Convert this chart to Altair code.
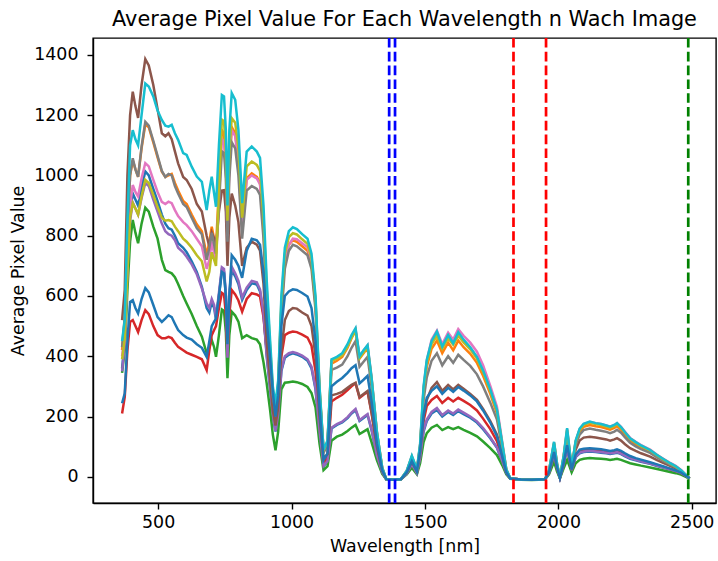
import altair as alt
import pandas as pd

wavelength = [
    365, 375, 385, 395, 405, 415, 425, 438, 452, 465, 482, 498, 514, 527, 539,
    551, 563, 575, 594, 607, 626, 645, 664, 682, 692, 701, 710, 717, 728, 739, 747, 754, 760,
    767, 776, 789, 801, 815, 832, 851, 870, 882, 895, 907, 920, 930, 940, 950, 962, 975,
    990, 1005, 1020, 1040, 1060, 1075, 1090, 1105, 1120, 1135, 1150, 1170, 1190, 1210, 1225, 1240, 1255, 1270, 1285, 1300,
    1320, 1340, 1355, 1380, 1410, 1432, 1451, 1470, 1482, 1495, 1507, 1525, 1545, 1565, 1587, 1606,
    1625, 1645, 1670, 1695, 1718, 1745, 1770, 1790, 1805, 1820, 1860, 1900, 1950, 1965, 1984,
    1995, 2006, 2020, 2033, 2042, 2050, 2065, 2080, 2095, 2118, 2140, 2160, 2180, 2194, 2210, 2220,
    2235, 2250, 2269, 2290, 2310, 2344, 2370, 2395, 2419, 2440, 2460, 2482, 2492,
]

img_blue_a = [
    360, 450, 700, 880, 940, 920, 900, 960, 1013, 1000, 955, 915, 870, 840, 825,
    820, 800, 775, 760, 745, 715, 680, 630, 560, 545, 580, 560, 520, 600, 686, 680, 600, 390,
    600, 686, 665, 640, 587, 620, 642, 638, 615, 540, 400, 288, 200, 150, 200, 350, 395,
    405, 410, 406, 398, 385, 360, 290, 150, 35, 50, 160, 172, 180, 195, 210, 221, 185, 195, 205, 155,
    70, 15, -8, -10, -8, 10, 40, 12, 60, 150, 185, 210, 222, 200, 215, 205,
    218, 208, 196, 180, 158, 128, 96, 50, 12, -6, -9, -10, -8, 12, 72,
    28, -4, 40, 95, 55, 22, 65, 78, 82, 84, 82, 80, 78, 76, 78, 80,
    75, 68, 60, 55, 50, 43, 36, 30, 24, 18, 12, 0, -5,
]
img_orange = [
    420, 520, 800, 1000, 1050, 1020, 995, 1090, 1170, 1160, 1110, 1060, 1012, 995, 1000,
    1005, 975, 950, 915, 905, 870, 838, 815, 735, 780, 830, 790, 760, 960, 1150, 1140, 1040, 820,
    1040, 1160, 1140, 1050, 830, 990, 1007, 995, 975, 830, 600, 410, 280, 225, 300, 560, 720,
    770, 785, 780, 765, 750, 705, 570, 285, 85, 110, 375, 385, 398, 428, 460, 485, 392, 410, 428, 322,
    145, 28, -8, -10, -8, 18, 65, 22, 100, 280, 365, 425, 452, 410, 445, 420,
    452, 430, 408, 378, 335, 275, 210, 105, 22, -6, -9, -10, -8, 18, 108,
    42, -3, 65, 150, 85, 28, 112, 150, 166, 172, 168, 165, 160, 156, 162, 168,
    156, 140, 121, 108, 98, 84, 68, 55, 42, 33, 20, 2, -5,
]
img_green = [
    345, 420, 620, 780, 852, 810, 775, 840, 893, 880, 830, 790, 720, 686, 680,
    675, 662, 640, 600, 575, 540, 500, 465, 410, 430, 454, 430, 398, 470, 555, 550, 480, 327,
    470, 548, 535, 515, 460, 470, 460, 455, 440, 380, 310, 220, 140, 88, 150, 290, 312,
    314, 316, 314, 308, 298, 278, 230, 110, 22, 35, 120, 133, 140, 152, 163, 172, 142, 150, 158, 115,
    55, 10, -8, -10, -8, 8, 30, 8, 45, 115, 145, 163, 172, 155, 165, 158,
    165, 156, 146, 134, 117, 95, 72, 38, 8, -7, -10, -11, -9, 8, 50,
    18, -5, 28, 56, 35, 15, 45, 56, 60, 62, 61, 60, 58, 56, 58, 60,
    56, 51, 45, 41, 37, 31, 26, 21, 16, 12, 7, -2, -8,
]
img_red = [
    210, 265, 420, 514, 520, 500, 480, 520, 553, 540, 500, 470, 460, 460, 464,
    460, 445, 431, 420, 412, 405, 398, 390, 354, 420, 470, 487, 500, 560, 610, 605, 540, 400,
    540, 620, 605, 585, 548, 590, 609, 605, 598, 530, 420, 320, 230, 170, 220, 400, 470,
    478, 482, 480, 472, 462, 435, 350, 180, 45, 65, 250, 262, 272, 288, 300, 310, 262, 272, 282, 212,
    95, 20, -8, -10, -8, 14, 48, 17, 78, 185, 235, 255, 268, 245, 262, 250,
    262, 252, 238, 220, 193, 158, 118, 60, 14, -6, -9, -10, -8, 13, 78,
    30, -4, 44, 100, 60, 23, 70, 85, 88, 90, 88, 86, 84, 82, 84, 86,
    81, 74, 65, 59, 54, 46, 39, 32, 26, 20, 13, 1, -5,
]
img_purple = [
    350, 440, 680, 850, 910, 890, 870, 925, 975, 965, 920, 880, 840, 815, 805,
    800, 785, 760, 745, 730, 705, 672, 625, 575, 560, 590, 570, 530, 610, 695, 690, 610, 395,
    610, 697, 675, 650, 595, 628, 650, 645, 622, 545, 405, 292, 205, 152, 205, 355, 400,
    410, 414, 410, 402, 390, 365, 295, 152, 36, 52, 163, 175, 183, 198, 213, 225, 188, 198, 208, 158,
    72, 15, -8, -10, -8, 10, 42, 12, 62, 155, 190, 215, 228, 205, 220, 210,
    223, 213, 200, 184, 162, 131, 98, 52, 12, -6, -9, -10, -8, 12, 74,
    29, -4, 41, 97, 56, 22, 66, 80, 84, 86, 84, 82, 80, 78, 80, 82,
    77, 70, 62, 56, 51, 44, 37, 31, 25, 19, 13, 1, -5,
]
img_brown = [
    520, 620, 1000, 1200, 1278, 1230, 1191, 1300, 1386, 1365, 1300, 1220, 1140, 1130, 1140,
    1120, 1080, 1040, 995, 985, 955, 905, 880, 800, 764, 810, 790, 760, 880, 950, 951, 880, 700,
    860, 940, 900, 845, 700, 760, 780, 770, 750, 640, 450, 320, 220, 170, 230, 420, 520,
    550, 560, 558, 545, 535, 500, 400, 200, 60, 75, 270, 275, 282, 295, 305, 312, 265, 275, 285, 215,
    100, 20, -8, -10, -8, 15, 50, 18, 80, 200, 255, 295, 314, 285, 305, 290,
    305, 292, 275, 255, 225, 185, 140, 70, 15, -6, -9, -10, -8, 15, 90,
    35, -3, 50, 125, 70, 25, 90, 120, 130, 133, 130, 127, 124, 120, 124, 128,
    120, 108, 95, 86, 78, 67, 55, 45, 36, 28, 18, 2, -5,
]
img_pink = [
    400, 470, 700, 900, 968, 945, 930, 990, 1041, 1030, 985, 945, 912, 905, 913,
    908, 885, 865, 845, 835, 815, 790, 765, 690, 720, 780, 740, 720, 920, 1120, 1110, 1020, 800,
    1030, 1150, 1130, 1040, 820, 985, 1000, 990, 970, 820, 595, 405, 275, 222, 298, 555, 715,
    770, 790, 788, 775, 762, 715, 580, 290, 87, 115, 385, 393, 405, 435, 466, 490, 398, 418, 436, 330,
    150, 30, -8, -10, -8, 20, 68, 24, 105, 295, 385, 455, 485, 440, 478, 455,
    490, 468, 445, 415, 370, 302, 232, 115, 25, -6, -9, -10, -8, 20, 114,
    45, -2, 68, 158, 88, 30, 118, 158, 175, 182, 178, 175, 170, 166, 172, 178,
    166, 149, 129, 116, 105, 90, 73, 59, 46, 36, 23, 3, -5,
]
img_gray = [
    430, 530, 810, 1000, 1057, 1020, 995, 1095, 1178, 1165, 1115, 1065, 1015, 995, 1005,
    1000, 965, 940, 905, 895, 860, 825, 805, 720, 760, 810, 770, 740, 900, 1080, 1075, 990, 780,
    990, 1110, 1090, 1000, 790, 950, 965, 955, 935, 790, 570, 390, 265, 215, 285, 530, 690,
    750, 770, 765, 750, 735, 690, 555, 275, 80, 105, 355, 362, 372, 400, 428, 450, 365, 382, 398, 300,
    135, 26, -8, -10, -8, 16, 60, 20, 92, 255, 330, 385, 410, 370, 400, 378,
    405, 388, 368, 340, 300, 246, 190, 95, 20, -6, -9, -10, -8, 17, 100,
    40, -3, 60, 140, 80, 27, 105, 140, 155, 160, 156, 153, 149, 145, 150, 156,
    146, 131, 113, 101, 92, 79, 64, 52, 40, 31, 19, 2, -5,
]
img_olive = [
    390, 460, 680, 860, 908, 890, 870, 930, 985, 975, 935, 895, 860, 850, 852,
    848, 830, 815, 790, 780, 760, 735, 715, 648, 680, 745, 720, 700, 950, 1185, 1180, 1080, 850,
    1080, 1190, 1175, 1090, 860, 1030, 1046, 1035, 1015, 860, 625, 430, 290, 232, 310, 580, 740,
    795, 808, 804, 788, 773, 725, 588, 295, 88, 115, 385, 392, 403, 432, 462, 485, 394, 413, 430, 325,
    148, 29, -8, -10, -8, 19, 67, 23, 103, 290, 378, 440, 468, 425, 460, 438,
    468, 446, 423, 392, 348, 285, 218, 108, 24, -6, -9, -10, -8, 19, 112,
    44, -3, 67, 156, 87, 29, 117, 156, 172, 180, 175, 172, 167, 163, 169, 175,
    162, 146, 126, 113, 102, 88, 71, 57, 44, 34, 21, 2, -5,
]
img_cyan = [
    450, 520, 850, 1100, 1150, 1120, 1100, 1200, 1305, 1295, 1262, 1215, 1184, 1165, 1162,
    1168, 1140, 1118, 1074, 1068, 1029, 996, 979, 885, 950, 996, 940, 896, 1100, 1267, 1262, 1150, 900,
    1150, 1273, 1251, 1151, 908, 1079, 1096, 1079, 1058, 900, 653, 450, 300, 240, 320, 600, 760,
    815, 828, 822, 805, 790, 740, 600, 300, 90, 120, 390, 398, 410, 440, 470, 493, 400, 420, 437, 330,
    150, 30, -8, -10, -8, 20, 70, 25, 110, 300, 388, 450, 482, 432, 470, 443,
    480, 455, 430, 398, 353, 290, 222, 110, 25, -6, -9, -10, -8, 20, 116,
    45, -2, 70, 161, 90, 30, 120, 160, 176, 183, 178, 175, 170, 166, 172, 178,
    165, 148, 128, 115, 104, 89, 72, 58, 45, 35, 22, 3, -5,
]
img_blue_b = [
    244, 277, 450, 580, 586, 560, 542, 590, 626, 612, 570, 530, 514, 525, 536,
    530, 508, 487, 470, 462, 455, 440, 428, 398, 450, 500, 515, 525, 600, 680, 675, 600, 440,
    600, 735, 720, 700, 660, 750, 790, 785, 770, 680, 520, 390, 280, 200, 270, 500, 600,
    615, 622, 620, 610, 598, 560, 450, 230, 55, 78, 300, 315, 328, 345, 360, 370, 310, 322, 335, 250,
    110, 22, -8, -10, -8, 15, 52, 18, 85, 205, 262, 285, 300, 275, 295, 282,
    298, 286, 270, 250, 220, 180, 135, 68, 15, -6, -9, -10, -8, 14, 82,
    32, -4, 46, 105, 63, 24, 74, 90, 93, 95, 93, 91, 88, 86, 88, 91,
    86, 78, 69, 62, 57, 48, 41, 34, 27, 21, 14, 1, -5,
]

series_names = ["img 1", "img 2", "img 3", "img 4", "img 5", "img 6",
                "img 7", "img 8", "img 9", "img 10", "img 11"]
series_colors = ["#1f77b4", "#ff7f0e", "#2ca02c", "#d62728", "#9467bd", "#8c564b",
                 "#e377c2", "#7f7f7f", "#bcbd22", "#17becf", "#1f77b4"]
series_values = [img_blue_a, img_orange, img_green, img_red, img_purple, img_brown,
                 img_pink, img_gray, img_olive, img_cyan, img_blue_b]

vline_positions = [1366, 1388, 1832, 1954, 2487]
vline_colors = ["blue", "blue", "red", "red", "green"]

x_ticks = [500, 1000, 1500, 2000, 2500]
y_ticks = [0, 200, 400, 600, 800, 1000, 1200, 1400]

rows = []
for k, (name, vals) in enumerate(zip(series_names, series_values)):
    if len(vals) != len(wavelength):
        raise ValueError(f"{name}: {len(vals)} values vs {len(wavelength)} wavelengths")
    for w, v in zip(wavelength, vals):
        rows.append({"wl": w, "val": v, "series": name, "k": k})
df = pd.DataFrame(rows)
vdf = pd.DataFrame({"wl": vline_positions, "c": vline_colors})

FONT = "DejaVu Sans"
x_scale = alt.Scale(domain=[256, 2591], nice=False, zero=False)
y_scale = alt.Scale(domain=[-87, 1456], nice=False, zero=False)

lines = alt.Chart(df).mark_line(strokeWidth=2.5, clip=True).encode(
    x=alt.X("wl:Q", scale=x_scale,
            axis=alt.Axis(values=x_ticks, format="d", title="Wavelength [nm]",
                          tickSize=6, labelPadding=4, titlePadding=7)),
    y=alt.Y("val:Q", scale=y_scale,
            axis=alt.Axis(values=y_ticks, format="d", title="Average Pixel Value",
                          tickSize=6, labelPadding=9, titlePadding=6)),
    color=alt.Color("series:N", scale=alt.Scale(domain=series_names, range=series_colors),
                    legend=None),
    order=alt.Order("wl:Q"),
)

rules = alt.Chart(vdf).mark_rule(strokeWidth=2.7, strokeDash=[9.6, 4.2]).encode(
    x=alt.X("wl:Q", scale=x_scale),
    stroke=alt.Stroke("c:N", scale=None),
)

chart = alt.layer(lines, rules).properties(
    width=623,
    height=465,
    background="white",
    title=alt.TitleParams("Average Pixel Value For Each Wavelength n Wach Image",
                          font=FONT, fontSize=20.8, fontWeight="normal", color="black",
                          anchor="middle", offset=-14, baseline="bottom"),
    autosize=alt.AutoSizeParams(type="none"),
    padding={"left": 93, "top": 38, "right": 2, "bottom": 58},
).configure_view(
    stroke="black", strokeWidth=1.4
).configure_axis(
    grid=False, domainColor="black", domainWidth=1.4, tickColor="black", tickWidth=1.4,
    labelColor="black", titleColor="black", labelFont=FONT, titleFont=FONT,
    labelFontSize=17.4, titleFontSize=17.4, titleFontWeight="normal",
)

chart.save("out.html", embed_options={"renderer": "svg", "actions": False})
